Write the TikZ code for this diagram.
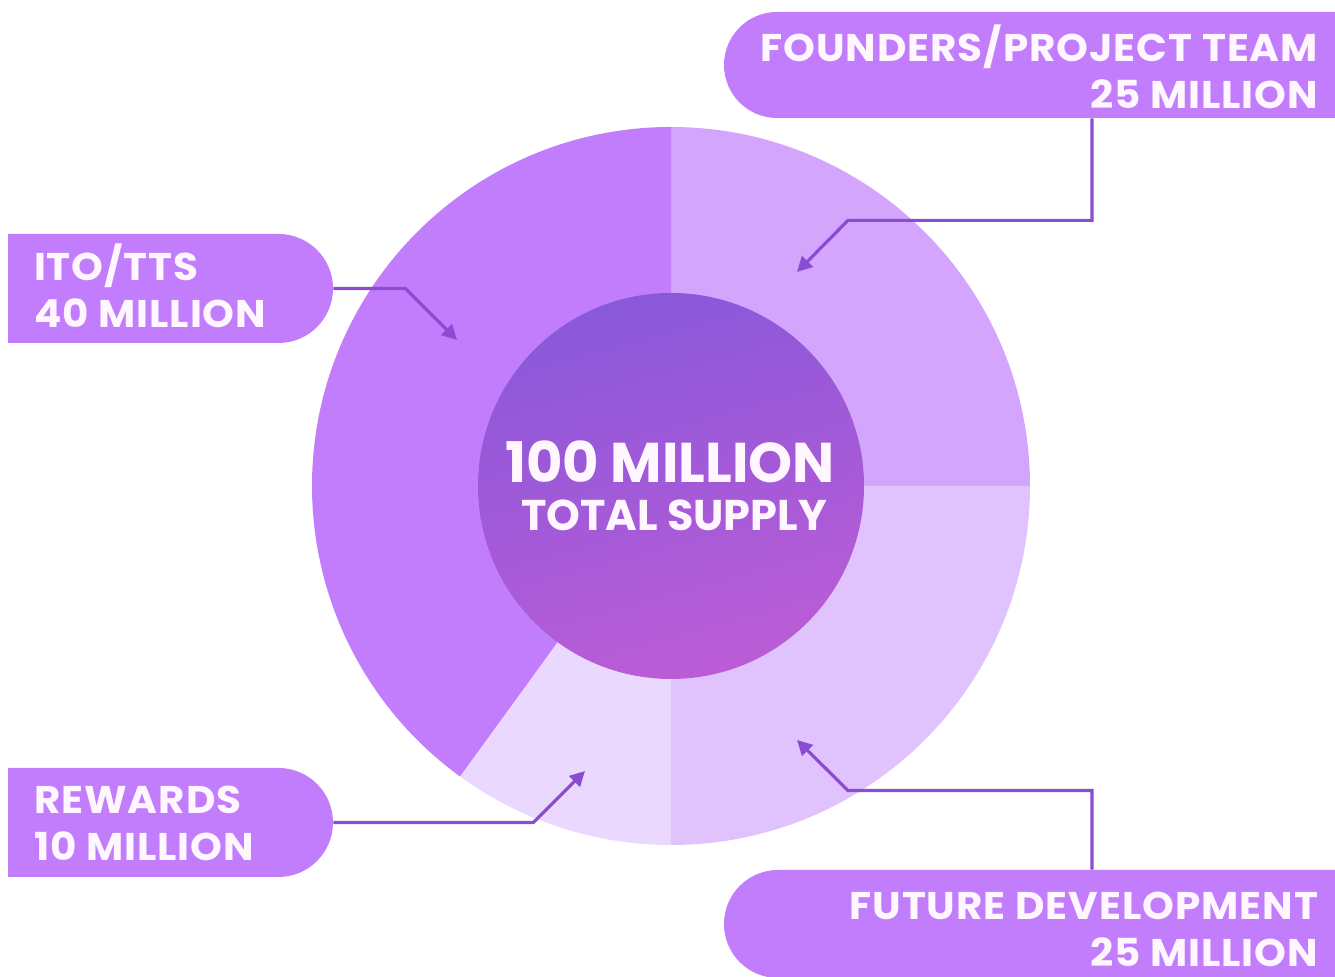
\documentclass[tikz,border=0pt]{standalone}
\usepackage{fontspec}
\setmainfont{Poppins}
\newfontfamily\labelfont{Poppins}[FakeStretch=1.05,LetterSpace=2.5]
\usetikzlibrary{positioning,calc,arrows.meta,shapes.misc}

\definecolor{boxpurple}{HTML}{C17DFB}
\definecolor{itopurple}{HTML}{C17DFB}
\definecolor{founderspurple}{HTML}{D4A5FC}
\definecolor{futurepurple}{HTML}{E0C2FD}
\definecolor{rewardspurple}{HTML}{EBD8FE}
\definecolor{coretop}{HTML}{8A58DA}
\definecolor{corebottom}{HTML}{BB5CD6}
\definecolor{linkpurple}{HTML}{8A4CD2}
\definecolor{labelwhite}{HTML}{FFF6FF}

\begin{document}
\begin{tikzpicture}[x=0.5pt,y=0.5pt,
  labelbox/.style={rounded rectangle, fill=boxpurple, inner sep=0pt},
  labeltext/.style={text=labelwhite, font=\labelfont\fontsize{19.3}{23.5}\selectfont\bfseries, inner sep=0pt},
  link/.style={draw=linkpurple, line width=1.6pt, -{Triangle[length=7.5pt,width=7.5pt]}}]
  \useasboundingbox (0,0) rectangle (1335,977);

  % ring of the four shares
  \coordinate (centre) at (671,491);
  \fill[founderspurple] (centre) -- ++(0:359) arc[start angle=0,end angle=90,radius=359] -- cycle;
  \fill[futurepurple] (centre) -- ++(-90:359) arc[start angle=-90,end angle=0,radius=359] -- cycle;
  \fill[rewardspurple] (centre) -- ++(-126:359) arc[start angle=-126,end angle=-90,radius=359] -- cycle;
  \fill[itopurple] (centre) -- ++(90:359) arc[start angle=90,end angle=234,radius=359] -- cycle;
  \shade[top color=coretop, bottom color=corebottom, shading angle=15] (centre) circle[radius=193];

  \node[text=labelwhite, inner sep=0pt, font=\fontsize{28}{30}\selectfont\bfseries] (totalnum) at (670,515) {100 MILLION};
  \node[text=labelwhite, inner sep=0pt, font=\fontsize{21.5}{24}\selectfont\bfseries] (totaltext) at (674,462) {TOTAL SUPPLY};

  % label boxes
  \node[labelbox, rounded rectangle right arc=none, minimum width=305.5pt, minimum height=53pt] (founders) at (1029.5,912) {};
  \node[labelbox, rounded rectangle right arc=none, minimum width=305.5pt, minimum height=54pt] (future) at (1029.5,53) {};
  \node[labelbox, rounded rectangle left arc=none, minimum width=162.5pt, minimum height=54.5pt] (ito) at (170.5,688.5) {};
  \node[labelbox, rounded rectangle left arc=none, minimum width=162.5pt, minimum height=54.5pt] (rewards) at (170.5,154.5) {};

  \node[labeltext, align=right, anchor=east] (founderstext) at ($(founders.east)+(-17,-2)$) {FOUNDERS/PROJECT TEAM\\25 MILLION};
  \node[labeltext, align=right, anchor=east] (futuretext) at ($(future.east)+(-17,-5)$) {FUTURE DEVELOPMENT\\25 MILLION};
  \node[labeltext, align=left, anchor=west] (itotext) at ($(ito.west)+(26,3)$) {ITO/TTS\\40 MILLION};
  \node[labeltext, align=left, anchor=west] (rewardstext) at ($(rewards.west)+(26,-1)$) {REWARDS\\10 MILLION};

  % pointers into the ring
  \coordinate (foundersend) at (797,705);
  \coordinate (futureend) at (797,237);
  \coordinate (itoend) at (457,637);
  \coordinate (rewardsend) at (585,206);
  \draw[link] ($(founders.south)+(62.5,0)$) |- ++(-244,-102) -- (foundersend);
  \draw[link] ($(future.north)+(62.5,0)$) |- ++(-244,79) -- (futureend);
  \draw[link] (ito.east) -- ++(72,0) -- (itoend);
  \draw[link] (rewards.east) -- ++(200,0) -- (rewardsend);
\end{tikzpicture}
\end{document}
